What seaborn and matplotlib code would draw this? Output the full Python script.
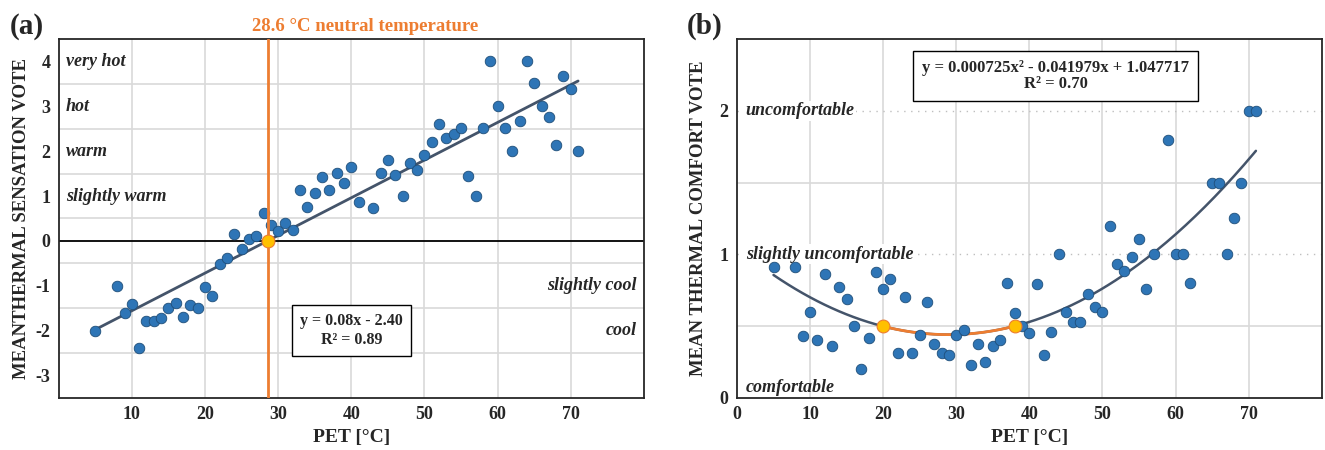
import numpy as np
import pandas as pd
import seaborn as sns
import matplotlib.pyplot as plt
from matplotlib.ticker import FuncFormatter

# (a) mean thermal sensation vote vs PET
pet_a = [5, 8, 9, 10, 11, 12, 13, 14, 15, 16, 17, 18, 19, 20, 21, 22, 23, 24, 25, 26,
         27, 28, 29, 30, 31, 32, 33, 34, 35, 36, 37, 38, 39, 40, 41, 43, 44, 45, 46, 47,
         48, 49, 50, 51, 52, 53, 54, 55, 56, 57, 58, 59, 60, 61, 62, 63, 64, 65, 66, 67,
         68, 69, 70, 71]
mtsv = [-2.0, -1.0, -1.62, -1.4, -2.4, -1.79, -1.79, -1.72, -1.5, -1.39, -1.7, -1.42, -1.5, -1.04, -1.22, -0.51, -0.38, 0.15, -0.19, 0.04,
        0.1, 0.62, 0.35, 0.22, 0.39, 0.24, 1.13, 0.76, 1.07, 1.42, 1.13, 1.51, 1.29, 1.65, 0.86, 0.73, 1.51, 1.81, 1.47, 1.0,
        1.74, 1.59, 1.91, 2.21, 2.61, 2.29, 2.38, 2.51, 1.45, 1.0, 2.51, 4.01, 3.01, 2.51, 2.01, 2.68, 4.01, 3.52, 3.01, 2.76,
        2.14, 3.68, 3.4, 2.01]
neutral_temp = 28.6
sensation_levels = [4, 3, 2, 1, -1, -2]
sensation_names = ['very hot', 'hot', 'warm', 'slightly warm', 'slightly cool', 'cool']
eq_a = 'y = 0.08x - 2.40\nR² = 0.89'

# (b) mean thermal comfort vote vs PET
pet_b = [5, 8, 9, 10, 11, 12, 13, 14, 15, 16, 17, 18, 19, 20, 21, 22, 23, 24, 25, 26,
         27, 28, 29, 30, 31, 32, 33, 34, 35, 36, 37, 38, 39, 40, 41, 42, 43, 44, 45, 46,
         47, 48, 49, 50, 51, 52, 53, 54, 55, 56, 57, 59, 60, 61, 62, 65, 66, 67, 68, 69,
         70, 71]
mtcv = [0.915, 0.915, 0.43, 0.6, 0.4, 0.86, 0.36, 0.77, 0.69, 0.5, 0.2, 0.415, 0.875, 0.76, 0.83, 0.31, 0.7, 0.31, 0.44, 0.665,
        0.375, 0.31, 0.3, 0.44, 0.47, 0.23, 0.375, 0.25, 0.36, 0.4, 0.8, 0.59, 0.5, 0.45, 0.79, 0.3, 0.455, 1.0, 0.6, 0.53,
        0.53, 0.726, 0.63, 0.6, 1.2, 0.936, 0.887, 0.98, 1.11, 0.756, 1.0, 1.8, 1.0, 1.0, 0.8, 1.5, 1.5, 1.0, 1.25, 1.5,
        2.0, 2.0]
comfort_coef = [0.000725, -0.041979, 1.047717]
comfort_range = [20, 38]
comfort_levels = [2, 1, 0.07]
comfort_names = ['uncomfortable', 'slightly uncomfortable', 'comfortable']
eq_b = 'y = 0.000725x² - 0.041979x + 1.047717\nR² = 0.70'

BLUE = '#2E75B6'
DARK = '#44546A'
ORANGE = '#ED7D31'
YELLOW = '#FFC000'
GRID = '#D9D9D9'

sns.set_style('white')
plt.rcParams['font.family'] = ['Liberation Serif', 'DejaVu Serif']
plt.rcParams['font.weight'] = 'bold'
plt.rcParams['axes.labelweight'] = 'bold'

fig = plt.figure(figsize=(13.25, 4.5), dpi=100)
ax1 = fig.add_axes([0.0443, 0.1162, 0.4417, 0.7965])
ax2 = fig.add_axes([0.5562, 0.1162, 0.4413, 0.7965])

dash = FuncFormatter(lambda v, p: f'{v:g}'.replace('\u2212', '-'))

# ---- panel (a)
df_a = pd.DataFrame({'PET': pet_a, 'MTSV': mtsv})
for v in [10, 20, 30, 40, 50, 60, 70]:
    ax1.axvline(v, color=GRID, lw=1.2, zorder=0)
for v in np.arange(-2.5, 4.5, 1.0):
    ax1.axhline(v, color=GRID, lw=1.2, zorder=0)
ax1.axhline(0, color='black', lw=1.3, zorder=1)
sns.regplot(data=df_a, x='PET', y='MTSV', ax=ax1, ci=None, scatter=False,
            line_kws=dict(color=DARK, lw=2, zorder=2))
sns.scatterplot(data=df_a, x='PET', y='MTSV', ax=ax1, color=BLUE, s=58,
                edgecolor='#1F4E79', linewidth=0.6, zorder=3)
ax1.axvline(neutral_temp, color=ORANGE, lw=2, zorder=4)
ax1.scatter([neutral_temp], [0], s=85, color=YELLOW, edgecolor=ORANGE, linewidth=0.8, zorder=5)
ax1.set_xlim(0, 80)
ax1.set_ylim(-3.5, 4.5)
ax1.set_xticks([10, 20, 30, 40, 50, 60, 70])
ax1.set_yticks([-3, -2, -1, 0, 1, 2, 3, 4])
ax1.yaxis.set_major_formatter(dash)
for lvl, name in zip(sensation_levels, sensation_names):
    if lvl > 0:
        ax1.text(1.0, lvl, name, ha='left', va='center', style='italic', fontsize=13)
    else:
        ax1.text(79, lvl, name, ha='right', va='center', style='italic', fontsize=13)
ax1.text(40, -2.0, eq_a, ha='center', va='center', fontsize=11.5, linespacing=1.2,
         bbox=dict(boxstyle='square,pad=0.5', fc='white', ec='black', lw=1), zorder=6)
ax1.text(26.4, 4.6, f'{neutral_temp} °C neutral temperature', ha='left', va='bottom',
         color=ORANGE, fontsize=13.5)
ax1.set_xlabel('PET [°C]', fontsize=14)
ax1.set_ylabel('MEANTHERMAL SENSATION VOTE', fontsize=13.5, labelpad=4)
fig.text(0.007, 0.925, '(a)', fontsize=21)

# ---- panel (b)
df_b = pd.DataFrame({'PET': pet_b, 'MTCV': mtcv})
for v in [10, 20, 30, 40, 50, 60, 70]:
    ax2.axvline(v, color=GRID, lw=1.2, zorder=0)
for v in [0.5, 1.5]:
    ax2.axhline(v, color=GRID, lw=1.2, zorder=0)
for v in [1, 2]:
    ax2.axhline(v, color='#BFBFBF', lw=1, ls=(0, (1, 4)), zorder=0)
xs = np.linspace(min(pet_b), max(pet_b), 200)
sns.lineplot(x=xs, y=np.polyval(comfort_coef, xs), ax=ax2, color=DARK, lw=1.8, zorder=2)
xc = np.linspace(comfort_range[0], comfort_range[1], 80)
sns.lineplot(x=xc, y=np.polyval(comfort_coef, xc), ax=ax2, color=ORANGE, lw=2, zorder=3)
sns.scatterplot(data=df_b, x='PET', y='MTCV', ax=ax2, color=BLUE, s=58,
                edgecolor='#1F4E79', linewidth=0.6, zorder=4)
ax2.scatter(comfort_range, np.polyval(comfort_coef, comfort_range), s=85, color=YELLOW,
            edgecolor=ORANGE, linewidth=0.8, zorder=5)
ax2.set_xlim(0, 80)
ax2.set_ylim(0, 2.5)
ax2.set_xticks([0, 10, 20, 30, 40, 50, 60, 70])
ax2.set_yticks([0, 1, 2])
for lvl, name in zip(comfort_levels, comfort_names):
    box = dict(fc='white', ec='none', pad=1) if lvl >= 1 else None
    ax2.text(1.2, lvl, name, ha='left', va='center', style='italic', fontsize=13, bbox=box)
ax2.text(43.6, 2.244, eq_b, ha='center', va='center', fontsize=12, linespacing=1.05,
         bbox=dict(boxstyle='square,pad=0.55', fc='white', ec='black', lw=1), zorder=6)
ax2.set_xlabel('PET [°C]', fontsize=14)
ax2.set_ylabel('MEAN THERMAL COMFORT VOTE', fontsize=13.5, labelpad=9)
fig.text(0.518, 0.925, '(b)', fontsize=21)

for ax in (ax1, ax2):
    ax.tick_params(labelsize=13, length=0, pad=6)
    for s in ax.spines.values():
        s.set_color('#262626')
        s.set_linewidth(1.3)

fig.savefig('out.png', dpi=100)
